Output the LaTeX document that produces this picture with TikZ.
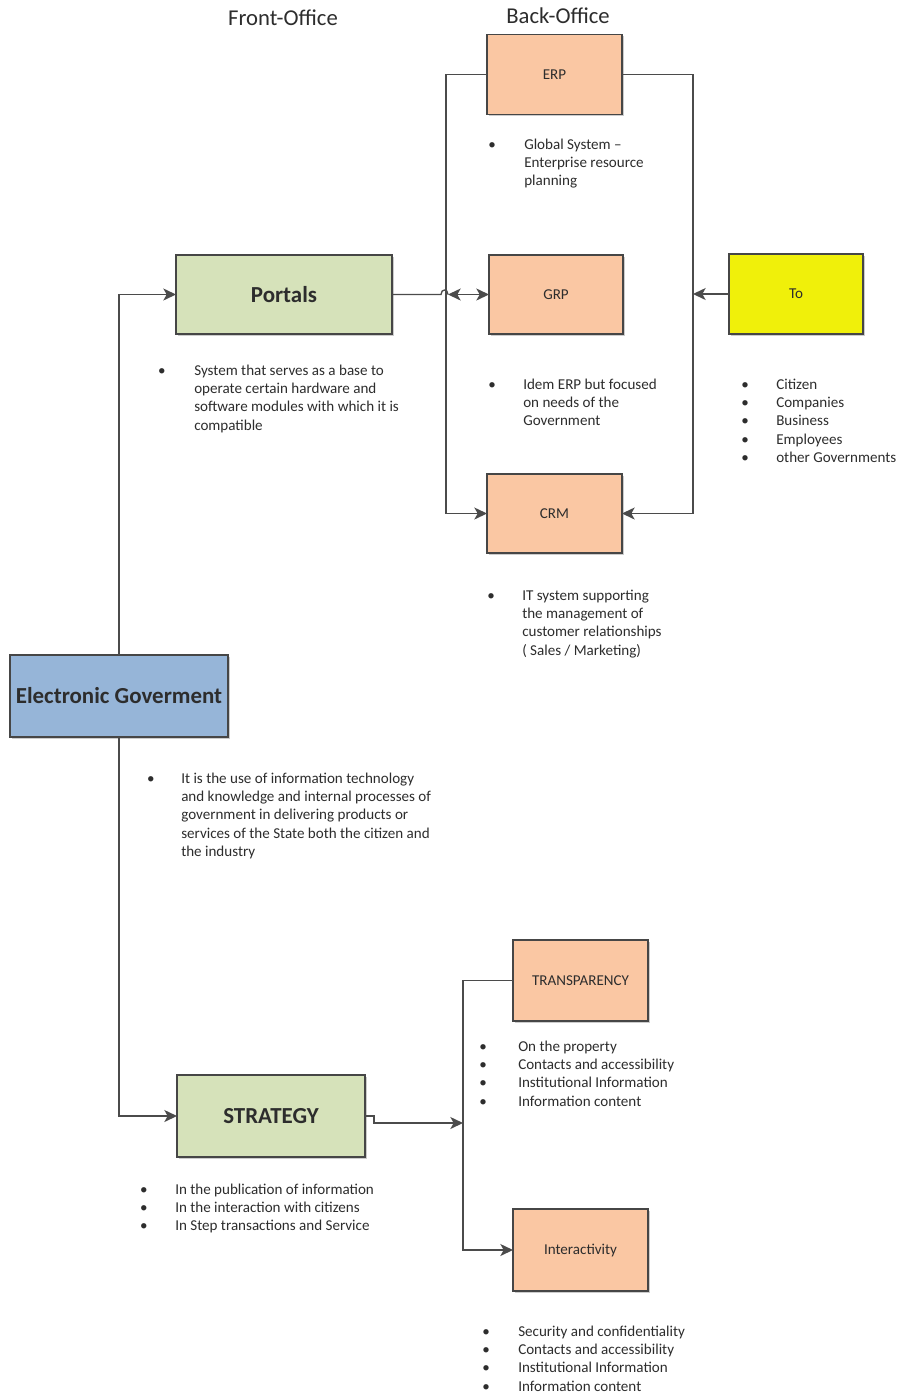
\documentclass[tikz,border=0pt]{standalone}
\usepackage{fontspec}
\setmainfont{Carlito}
\usetikzlibrary{arrows.meta,shadows}
\definecolor{gfill}{RGB}{214,226,186}
\definecolor{ofill}{RGB}{250,199,163}
\definecolor{bfill}{RGB}{150,181,216}
\definecolor{yfill}{RGB}{240,240,10}
\definecolor{bordc}{RGB}{70,70,70}
\definecolor{linec}{RGB}{75,75,75}
\definecolor{txtc}{RGB}{45,45,45}
% one bullet per line
\newcommand\blist[5]{%
  \foreach \t [count=\i from 0] in {#5} {
    \node[lst, anchor=base] (#1b\i) at (#2, #4+\i*18.4) {\textbullet};
    \node[lst, anchor=base west] (#1t\i) at (#3, #4+\i*18.4) {\t};
  }}
% one bullet for a wrapped paragraph
\newcommand\bpara[5]{%
  \node[lst, anchor=base] (#1b) at (#2, #4) {\textbullet};
  \foreach \t [count=\i from 0] in {#5} {
    \node[lst, anchor=base west] (#1t\i) at (#3, #4+\i*18.4) {\t};
  }}
\begin{document}
\begin{tikzpicture}[x=0.75pt,y=-0.75pt,
  bx/.style n args={3}{draw=bordc, line width=0.8pt, fill=#3,
     minimum width=#1*0.75pt, minimum height=#2*0.75pt,
     inner sep=0pt, outer sep=0pt, text=txtc,
     font=\fontsize{11.3}{13}\selectfont,
     drop shadow={shadow xshift=1.2pt, shadow yshift=-1.2pt, opacity=0.2, fill=black}},
  bold/.style={font=\fontsize{17.2}{20}\selectfont\bfseries},
  lst/.style={inner sep=0pt, text=txtc, font=\fontsize{11.3}{13}\selectfont},
  conn/.style={draw=linec, line width=1pt},
  arr/.style={conn, -{Stealth[length=9.5pt, width=9pt, inset=2.5pt]}},
  darr/.style={conn, {Stealth[length=9.5pt, width=9pt, inset=2.5pt]}-{Stealth[length=9.5pt, width=9pt, inset=2.5pt]}}
]
\useasboundingbox[fill=white] (0,0) rectangle (901,1397);

% headings
\node[text=txtc, font=\fontsize{17}{20}\selectfont] (fo) at (283,18) {Front-Office};
\node[text=txtc, font=\fontsize{17}{20}\selectfont] (bo) at (558,16) {Back-Office};

% boxes
\node[bx={135}{80}{ofill}] (erp) at (554.5,74.5) {ERP};
\node[bx={134}{79}{ofill}] (grp) at (556,294.5) {GRP};
\node[bx={135}{79}{ofill}] (crm) at (554.5,513.5) {CRM};
\node[bx={134}{80}{yfill}] (to) at (796,294) {To};
\node[bx={216}{79}{gfill}, bold] (portals) at (284,294.5) {Portals};
\node[bx={218}{82}{bfill}, bold] (eg) at (119,696) {Electronic Goverment};
\node[bx={188}{82}{gfill}, bold] (strategy) at (271,1116) {STRATEGY};
\node[bx={135}{81}{ofill}] (transp) at (580.5,980.5) {TRANSPARENCY};
\node[bx={135}{82}{ofill}] (inter) at (580.5,1250) {Interactivity};

% coordinates
\coordinate (lt) at (446,74.5);
\coordinate (lb) at (446,513.5);
\coordinate (rt) at (693,74.5);
\coordinate (rb) at (693,513.5);
\coordinate (rm) at (693,294);
\coordinate (hopa) at (441,294.5);
\coordinate (hopb) at (448,294.5);
\coordinate (s1) at (374,1116);
\coordinate (s2) at (374,1123);
\coordinate (vm) at (463,1123);
\coordinate (vt) at (463,980.5);
\coordinate (vb) at (463,1250);

% connectors
\draw[arr] (eg.north) |- (portals.west);
\draw[arr] (eg.south) |- (strategy.west);
\draw[arr] (erp.west) -- (lt) -- (lb) -- (crm.west);
\draw[arr] (erp.east) -- (rt) -- (rb) -- (crm.east);
\draw[arr] (to.west) -- (rm);
\draw[conn] (portals.east) -- (hopa) .. controls (441,288.5) and (448,288.5) .. (hopb);
\draw[darr] (hopb) -- (grp.west);
\draw[arr] (strategy.east) -- (s1) -- (s2) -- (vm);
\draw[arr] (transp.west) -- (vt) -- (vb) -- (inter.west);

% bullet lists
\bpara{erpl}{492}{524}{149}{{Global System –},{Enterprise resource},{planning}}
\bpara{portl}{162}{194}{375}{{System that serves as a base to},{operate certain hardware and},{software modules with which it is},{compatible}}
\bpara{grpl}{492}{523}{389}{{Idem ERP but focused},{on needs of the},{Government}}
\blist{tol}{745}{776}{389}{{Citizen},{Companies},{Business},{Employees},{other Governments}}
\bpara{crml}{491}{522}{600}{{IT system supporting},{the management of},{customer relationships},{( Sales / Marketing)}}
\bpara{egl}{151}{181}{783}{{It is the use of information technology},{and knowledge and internal processes of},{government in delivering products or},{services of the State both the citizen and},{the industry}}
\blist{strl}{144}{175}{1194}{{In the publication of information},{In the interaction with citizens},{In Step transactions and Service}}
\blist{trl}{483}{518}{1051}{{On the property},{Contacts and accessibility},{Institutional Information},{Information content}}
\blist{intl}{486}{518}{1336}{{Security and confidentiality},{Contacts and accessibility},{Institutional Information},{Information content}}
\end{tikzpicture}
\end{document}
